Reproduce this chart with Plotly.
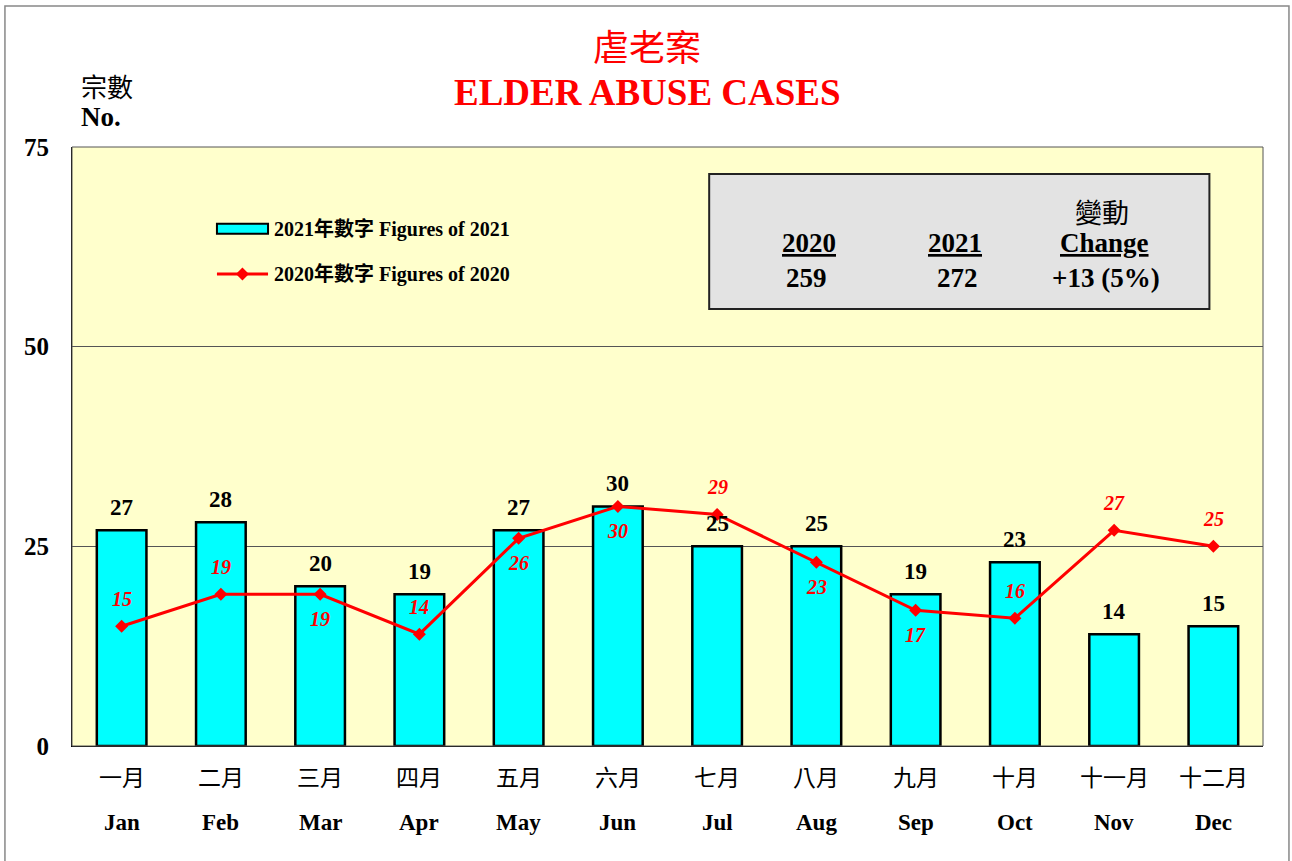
import plotly.graph_objects as go

months_zh = ["一月", "二月", "三月", "四月", "五月", "六月", "七月", "八月", "九月", "十月", "十一月", "十二月"]
months_en = ["Jan", "Feb", "Mar", "Apr", "May", "Jun", "Jul", "Aug", "Sep", "Oct", "Nov", "Dec"]
figures_2021 = [27, 28, 20, 19, 27, 30, 25, 25, 19, 23, 14, 15]
figures_2020 = [15, 19, 19, 14, 26, 30, 29, 23, 17, 16, 27, 25]
label_2020_side = ["up", "up", "down", "up", "down", "down", "up", "down", "down", "up", "up", "up"]
y_ticks = [0, 25, 50, 75]

SERIF = "Liberation Serif, Times New Roman, Noto Sans CJK TC, serif"
CJK = "Noto Sans CJK TC, Noto Sans CJK SC, sans-serif"

fig = go.Figure()
fig.add_trace(go.Bar(
    x=months_en, y=figures_2021, width=0.5,
    marker=dict(color="#00FFFF", line=dict(color="black", width=2.5)),
    name="2021年數字 Figures of 2021", showlegend=False,
))
fig.add_trace(go.Scatter(
    x=months_en, y=figures_2020, mode="lines+markers",
    line=dict(color="#FF0000", width=3),
    marker=dict(symbol="diamond", size=10, color="#FF0000"),
    name="2020年數字 Figures of 2020", showlegend=False,
))

ann = []
for m, v in zip(months_en, figures_2021):
    ann.append(dict(x=m, y=v, xref="x", yref="y", text=f"<b>{v}</b>", showarrow=False,
                    xanchor="center", yanchor="middle", yshift=23,
                    font=dict(family=SERIF, size=23, color="black")))
for m, v, s in zip(months_en, figures_2020, label_2020_side):
    ann.append(dict(x=m, y=v, xref="x", yref="y", text=f"<b><i>{v}</i></b>", showarrow=False,
                    xanchor="center", yanchor="middle", yshift=27 if s == "up" else -25,
                    font=dict(family=SERIF, size=20, color="#FF0000")))
for m, zh, en in zip(months_en, months_zh, months_en):
    ann.append(dict(x=m, y=-0.0501, xref="x", yref="paper", text=zh, showarrow=False,
                    xanchor="center", yanchor="middle", font=dict(family=CJK, size=23, color="black")))
    ann.append(dict(x=m, y=-0.1269, xref="x", yref="paper", text=f"<b>{en}</b>", showarrow=False,
                    xanchor="center", yanchor="middle", font=dict(family=SERIF, size=23, color="black")))

# titles
ann.append(dict(x=0.4828, y=1.170, xref="paper", yref="paper", text="虐老案", showarrow=False,
                xanchor="center", yanchor="middle", font=dict(family=CJK, size=36, color="#FF0000")))
ann.append(dict(x=0.4828, y=1.0918, xref="paper", yref="paper", text="<b>ELDER ABUSE CASES</b>",
                showarrow=False, xanchor="center", yanchor="middle",
                font=dict(family=SERIF, size=37, color="#FF0000")))
ann.append(dict(x=0.0059, y=1.1035, xref="paper", yref="paper", text="宗數", showarrow=False,
                xanchor="left", yanchor="middle", font=dict(family=CJK, size=26, color="black")))
ann.append(dict(x=0.0059, y=1.050, xref="paper", yref="paper", text="<b>No.</b>", showarrow=False,
                xanchor="left", yanchor="middle", font=dict(family=SERIF, size=27, color="black")))

# legend texts
ann.append(dict(x=0.1679, y=0.863, xref="paper", yref="paper", text="<b>2021年數字 Figures of 2021</b>",
                showarrow=False, xanchor="left", yanchor="middle", font=dict(family=SERIF, size=20, color="black")))
ann.append(dict(x=0.1679, y=0.788, xref="paper", yref="paper", text="<b>2020年數字 Figures of 2020</b>",
                showarrow=False, xanchor="left", yanchor="middle", font=dict(family=SERIF, size=20, color="black")))

# summary box texts
box_font = dict(family=SERIF, size=27, color="black")
for x, y, t in [(0.619, 0.8397, "<b><u>2020</u></b>"), (0.617, 0.781, "<b>259</b>"),
                (0.7414, 0.8397, "<b><u>2021</u></b>"), (0.7435, 0.781, "<b>272</b>"),
                (0.8665, 0.8397, "<b><u>Change</u></b>"), (0.868, 0.781, "<b>+13 (5%)</b>")]:
    ann.append(dict(x=x, y=y, xref="paper", yref="paper", text=t, showarrow=False,
                    xanchor="center", yanchor="middle", font=box_font))
ann.append(dict(x=0.8648, y=0.8915, xref="paper", yref="paper", text="變動", showarrow=False,
                xanchor="center", yanchor="middle", font=dict(family=CJK, size=27, color="black")))

shapes = [
    # outer figure border
    dict(type="rect", xref="paper", yref="paper", x0=-0.0563, x1=1.0218, y0=-0.25, y1=1.2354,
         line=dict(color="#888888", width=1.5), layer="below"),
    # plot border
    dict(type="rect", xref="paper", yref="paper", x0=0, x1=1, y0=0, y1=1,
         line=dict(color="#555555", width=1)),
    # summary box
    dict(type="rect", xref="paper", yref="paper", x0=0.535, x1=0.955, y0=0.7295, y1=0.955,
         fillcolor="#E3E3E3", line=dict(color="#222222", width=2), layer="above"),
    # legend symbols
    dict(type="rect", xref="paper", yref="paper", x0=0.1217, x1=0.1646, y0=0.855, y1=0.872,
         fillcolor="#00FFFF", line=dict(color="black", width=2)),
    dict(type="line", xref="paper", yref="paper", x0=0.1217, x1=0.1646, y0=0.788, y1=0.788,
         line=dict(color="#FF0000", width=3)),
]
fig.add_trace(go.Scatter(
    x=[0.1431], y=[0.788], xaxis="x2", yaxis="y2", mode="markers",
    marker=dict(symbol="diamond", size=10, color="#FF0000"), showlegend=False, hoverinfo="skip"))

fig.update_layout(
    width=1292, height=861,
    margin=dict(l=72, r=29, t=147, b=115),
    paper_bgcolor="white", plot_bgcolor="#FFFFCC",
    bargap=0.5, showlegend=False,
    annotations=ann, shapes=shapes,
    xaxis=dict(showticklabels=False, showgrid=False, showline=True, linecolor="black", linewidth=1,
               ticks="", zeroline=False, range=[-0.5, 11.5]),
    yaxis=dict(range=[0, 75], tickvals=y_ticks, ticktext=[f"<b>{v}</b>" for v in y_ticks],
               tickfont=dict(family=SERIF, size=25, color="black"), showgrid=True,
               gridcolor="#555555", gridwidth=1, showline=True, linecolor="black", linewidth=1,
               zeroline=False, ticks="", ticklabelstandoff=17),
    xaxis2=dict(range=[0, 1], overlaying="x", visible=False, fixedrange=True),
    yaxis2=dict(range=[0, 1], overlaying="y", visible=False, fixedrange=True),
)

fig.write_html("out.html", config={"displayModeBar": False},
               post_script="document.body.style.margin='0';document.body.style.overflow='hidden';")
